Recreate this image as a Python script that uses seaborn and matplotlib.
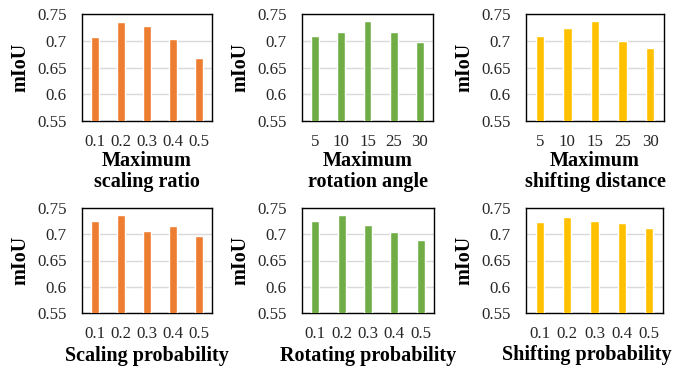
import matplotlib
matplotlib.use("Agg")
import matplotlib.pyplot as plt
import seaborn as sns
import pandas as pd

sns.set_theme(style="white")
plt.rcParams['font.family'] = ['Liberation Serif', 'DejaVu Serif']

ratio_labels = ["0.1", "0.2", "0.3", "0.4", "0.5"]
angle_labels = ["5", "10", "15", "25", "30"]
prob_labels = ["0.1", "0.2", "0.3", "0.4", "0.5"]

scaling_ratio = [0.707, 0.735, 0.727, 0.704, 0.667]
rotation_angle = [0.709, 0.717, 0.736, 0.716, 0.698]
shifting_distance = [0.708, 0.723, 0.736, 0.699, 0.687]
scaling_prob = [0.726, 0.736, 0.707, 0.716, 0.697]
rotating_prob = [0.725, 0.736, 0.717, 0.705, 0.690]
shifting_prob = [0.724, 0.733, 0.725, 0.721, 0.712]

orange = "#ED7D31"
green = "#70AD47"
yellow = "#FFC000"

panels = [
    (ratio_labels, scaling_ratio, orange, "Maximum\nscaling ratio", (82, 14, 212, 121)),
    (angle_labels, rotation_angle, green, "Maximum\nrotation angle", (302, 14, 433, 121)),
    (angle_labels, shifting_distance, yellow, "Maximum\nshifting distance", (526, 14, 664, 121)),
    (prob_labels, scaling_prob, orange, "Scaling probability", (82, 208, 212, 313)),
    (prob_labels, rotating_prob, green, "Rotating probability", (302, 208, 434, 313)),
    (prob_labels, shifting_prob, yellow, "Shifting probability", (526, 208, 663, 313)),
]

W, H = 674, 371
fig = plt.figure(figsize=(W / 100, H / 100), dpi=100)

for i, (cats, vals, color, xlabel, (x0, y0, x1, y1)) in enumerate(panels):
    ax = fig.add_axes([x0 / W, 1 - y1 / H, (x1 - x0) / W, (y1 - y0) / H])
    df = pd.DataFrame({"cat": cats, "val": vals})
    sns.barplot(data=df, x="cat", y="val", color=color, width=0.3,
                saturation=1, ax=ax, zorder=3)
    ax.set_ylim(0.55, 0.75)
    ax.set_yticks([0.55, 0.6, 0.65, 0.7, 0.75])
    ax.set_yticklabels(["0.55", "0.6", "0.65", "0.7", "0.75"])
    ax.yaxis.grid(True, color="#D9D9D9", linewidth=1, zorder=0)
    ax.xaxis.grid(False)
    ax.set_axisbelow(True)
    for s in ax.spines.values():
        s.set_visible(True)
        s.set_color("black")
        s.set_linewidth(1)
    ax.tick_params(axis="both", length=0, labelsize=12.2, colors="#262626")
    ax.tick_params(axis="y", pad=11)
    ax.tick_params(axis="x", pad=9)
    ax.set_ylabel("mIoU", fontsize=14.5, fontweight="bold", color="black", labelpad=5)
    lp = 1 if i < 3 else 3
    ax.set_xlabel(xlabel, fontsize=14.5, fontweight="bold", color="black",
                  labelpad=lp, linespacing=1.05)
    if i == 5:
        ax.xaxis.label.set_horizontalalignment("right")
        ax.xaxis.set_label_coords((672 - x0) / (x1 - x0), (y1 - 345) / (y1 - y0))

fig.savefig("out.png", dpi=100)
